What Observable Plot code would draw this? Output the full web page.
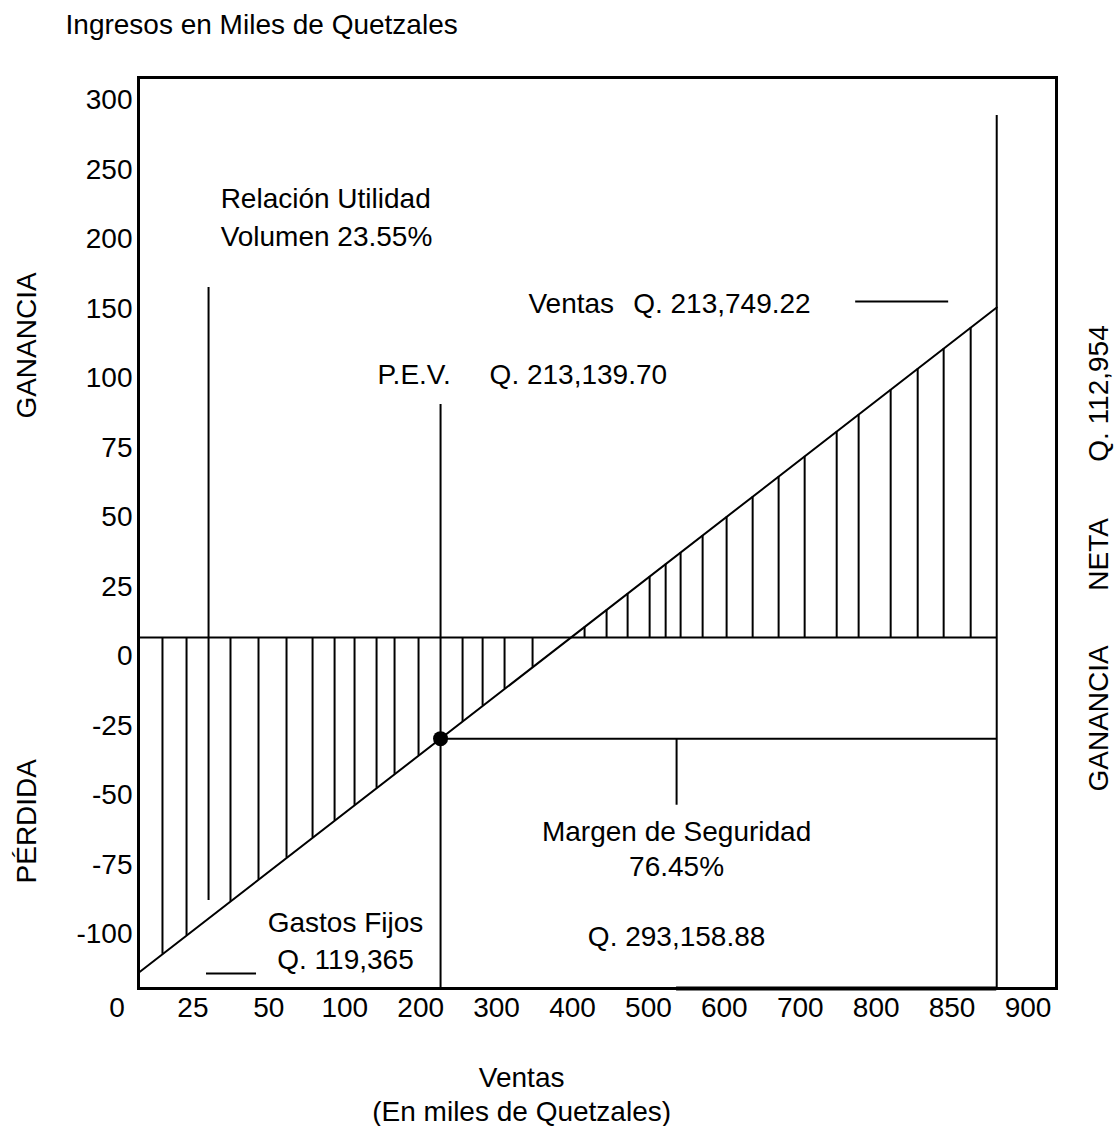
<!DOCTYPE html>
<html><head><meta charset="utf-8">
<script src="https://cdn.jsdelivr.net/npm/d3@7"></script>
<script src="https://cdn.jsdelivr.net/npm/@observablehq/plot@0.6"></script>
<style>
html,body{margin:0;padding:0;background:#fff;}
svg{display:block;}
</style>
</head><body><div id="chart"></div>
<script>
// Axis tick labels (placed at index positions 0..12)
const xTickLabels = ["0","25","50","100","200","300","400","500","600","700","800","850","900"];
const yTickLabels = ["300","250","200","150","100","75","50","25","0","-25","-50","-75","-100"];

// Values below are in tick-index units
const zeroLevel = 7.727;                 // the 0 line
const salesLine = [{x: 0.285, y: 12.55}, {x: 11.588, y: 2.978}]; // ingresos line (left edge -> ventas)
const pevX = 4.262;                      // punto de equilibrio
const pevY = 9.182;
const ventasX = 11.588;                  // ventas actuales
const relacionX = 1.206;
const margenX = 7.371;
const hatchX = [0.599,0.916,1.495,1.864,2.233,2.576,2.866,3.129,3.419,3.656,3.972,4.552,4.816,5.105,5.474,
                6.159,6.449,6.726,7.016,7.227,7.424,7.714,8.030,8.373,8.715,9.058,9.480,9.769,10.191,10.547,10.889,11.245];

// annotation texts
const noteText = ["Relación Utilidad","Volumen 23.55%","Ventas","Q. 213,749.22","P.E.V.","Q. 213,139.70",
                  "Margen de Seguridad","76.45%","Q. 293,158.88","Gastos Fijos","Q. 119,365"];
const noteX = [1.365,1.365,5.42,9.137,3.432,4.908,7.371,7.371,7.371,3.01,3.01];
const noteY = [1.42,1.97,2.935,2.935,3.957,3.957,10.53,11.036,12.04,11.84,12.37];
const noteAnchor = ["start","start","start","end","start","start","middle","middle","middle","middle","middle"];

const sideText = ["GANANCIA","PÉRDIDA","GANANCIA","NETA","Q. 112,954"];
const sideX = [-1.18,-1.19,12.94,12.94,12.94];
const sideY = [3.525,10.37,8.89,6.53,4.216];

const titleText = ["Ingresos en Miles de Quetzales"];
const xTitle = ["Ventas","(En miles de Quetzales)"];

const lineAt = v => salesLine[0].y + (v - salesLine[0].x) * (salesLine[1].y - salesLine[0].y) / (salesLine[1].x - salesLine[0].x);
const notes = noteText.map((t,i)=>({t, x: noteX[i], y: noteY[i], a: noteAnchor[i]}));
const sides = sideText.map((t,i)=>({t, x: sideX[i], y: sideY[i]}));

const sw = 2;
const chart = Plot.plot({
  width: 1117, height: 1126,
  marginLeft: 138, marginRight: 61, marginTop: 77, marginBottom: 138,
  x: {domain: [0, 12], range: [116.5, 1027.5]},
  y: {domain: [0, 12], range: [100, 934]},
  style: {fontFamily: "'Liberation Sans', Arial, sans-serif", fontSize: "28px", background: "white", color: "black"},
  marks: [
    Plot.frame({stroke: "black", strokeWidth: 3}),
    Plot.axisX({ticks: d3.range(13), tickFormat: i => xTickLabels[i], tickSize: 0, tickPadding: 9, fontSize: 28, label: null}),
    Plot.axisY({ticks: d3.range(13), tickFormat: i => yTickLabels[i], tickSize: 0, tickPadding: 6, fontSize: 28, label: null}),
    // zero line
    Plot.ruleY([zeroLevel], {x1: salesLine[0].x, x2: ventasX, stroke: "black", strokeWidth: sw}),
    // hatch
    Plot.ruleX(hatchX, {x: d => d, y1: zeroLevel, y2: d => lineAt(d), stroke: "black", strokeWidth: sw}),
    // sales line
    Plot.line(salesLine, {x: "x", y: "y", stroke: "black", strokeWidth: sw}),
    // relación line
    Plot.ruleX([relacionX], {y1: 2.69, y2: 11.51, stroke: "black", strokeWidth: sw}),
    // PEV line
    Plot.ruleX([pevX], {y1: 4.374, y2: 12.777, stroke: "black", strokeWidth: sw}),
    // ventas line
    Plot.ruleX([ventasX], {y1: 0.216, y2: 12.777, stroke: "black", strokeWidth: sw}),
    // margen line
    Plot.ruleY([pevY], {x1: pevX, x2: ventasX, stroke: "black", strokeWidth: sw}),
    Plot.ruleX([margenX], {y1: pevY, y2: 10.14, stroke: "black", strokeWidth: sw}),
    // short leader lines
    Plot.ruleY([12.56], {x1: 1.179, x2: 1.838, stroke: "black", strokeWidth: sw}),
    Plot.ruleY([2.892], {x1: 9.73, x2: 10.955, stroke: "black", strokeWidth: sw}),
    // thick base segment
    Plot.ruleY([12.777], {x1: margenX, x2: ventasX, stroke: "black", strokeWidth: 4}),
    // PEV dot
    Plot.dot([{x: pevX, y: pevY}], {x: "x", y: "y", r: 7.5, fill: "black"}),
    // notes
    Plot.text(notes.filter(d=>d.a==="start"), {x: "x", y: "y", text: "t", textAnchor: "start", fontSize: 28, fill: "black"}),
    Plot.text(notes.filter(d=>d.a==="end"), {x: "x", y: "y", text: "t", textAnchor: "end", fontSize: 28, fill: "black"}),
    Plot.text(notes.filter(d=>d.a==="middle"), {x: "x", y: "y", text: "t", textAnchor: "middle", fontSize: 28, fill: "black"}),
    Plot.text(sides, {x: "x", y: "y", text: "t", rotate: -90, fontSize: 28, fill: "black"}),
    Plot.text(titleText, {x: -0.678, y: -1.079, text: d => d, textAnchor: "start", fontSize: 28, fill: "black"}),
    Plot.text(xTitle, {x: 5.33, y: (d,i) => i === 0 ? 14.06 : 14.56, text: d => d, fontSize: 28, fill: "black"})
  ]
});
document.getElementById("chart").append(chart);
</script>
</body></html>
